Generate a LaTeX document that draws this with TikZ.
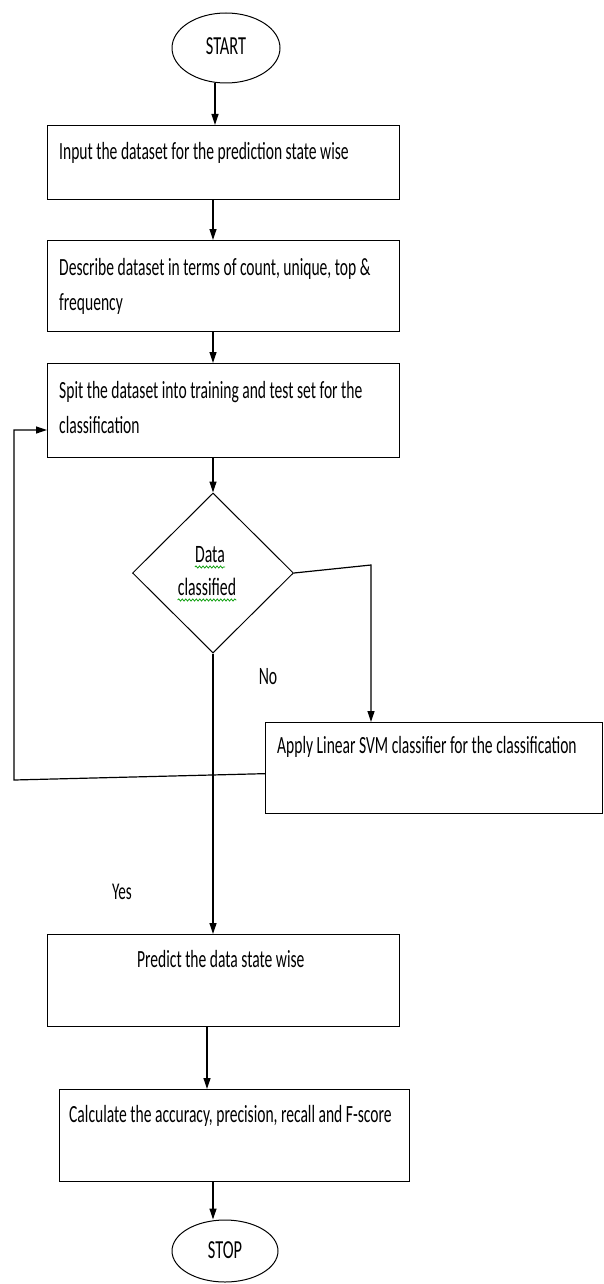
\documentclass[tikz,border=0pt]{standalone}
\usepackage{fontspec}
\setmainfont[FakeStretch=0.63]{Carlito}
\usetikzlibrary{shapes.geometric,arrows.meta,decorations.pathmorphing}
\begin{document}
\begin{tikzpicture}[x=1pt,y=-1pt,
  box/.style={draw, line width=1.3pt, rectangle, inner sep=0pt, anchor=north west},
  term/.style={draw, line width=1pt, ellipse, inner sep=0pt, font=\fontsize{26}{30}\selectfont},
  txt/.style={font=\fontsize{24.7}{35}\selectfont, inner sep=0pt, anchor=base west, align=left},
  lbl/.style={font=\fontsize{#1}{30}\selectfont, inner sep=0pt, anchor=base},
  lbl/.default=25,
  arr/.style={line width=1.2pt, -{Triangle[length=11pt,width=7pt]}},
  spell/.style={draw=green!60!black, line width=0.7pt, decorate, decoration={snake, amplitude=1.1pt, segment length=3.5pt}}
]
\useasboundingbox (0,0) rectangle (603,1284);

% shapes
\node[term, minimum width=108pt, minimum height=70pt] (start) at (226,48) {\raisebox{4pt}{START}};
\node[box, minimum width=352pt, minimum height=74pt] (b1) at (47,125) {};
\node[box, minimum width=352pt, minimum height=91pt] (b2) at (47,240) {};
\node[box, minimum width=352pt, minimum height=94pt] (b3) at (47,363) {};
\node[draw, diamond, aspect=1, minimum width=161pt, minimum height=160pt, inner sep=0pt, line width=1pt] (dia) at (213,573) {};
\node[box, minimum width=337pt, minimum height=91pt] (svm) at (265,722) {};
\node[box, minimum width=352pt, minimum height=92pt] (b5) at (47,934) {};
\node[box, minimum width=350pt, minimum height=92pt] (b6) at (59,1089) {};
\node[term, minimum width=106pt, minimum height=62pt] (stop) at (225,1251) {\raisebox{2pt}{STOP}};

% texts (multi-line nodes: base = baseline of last line)
\node[txt] (t1) at (59,160) {Input the dataset for the prediction state wise};
\node[txt] (t2) at (59,310) {Describe dataset in terms of count, unique, top \&\\frequency};
\node[txt] (t3) at (59,433) {Spit the dataset into training and test set for the\\classification};
\node[lbl=25] (tdata) at (210,562) {Data};
\node[lbl=25] (tcls) at (207,595) {classified};
\draw[spell] ([yshift=-5pt]tdata.base west) -- ([yshift=-5pt]tdata.base east);
\draw[spell] ([yshift=-5pt]tcls.base west) -- ([yshift=-5pt]tcls.base east);
\node[txt] (tsvm) at (277,753) {Apply Linear SVM classifier for the classification};
\node[txt] (t5) at (137,967) {Predict the data state wise};
\node[txt] (t6) at (69,1122) {Calculate the accuracy, precision, recall and F-score};
\node[lbl=25] (no) at (268,684) {No};
\node[lbl=24] (yes) at (122,899) {Yes};

% connectors
\coordinate (ax) at (213,0);
\coordinate (ax2) at (207,0);
\coordinate (nob) at (371,565);
\coordinate (fb1) at (14,780);
\coordinate (fb2) at (14,430);
\draw[arr] ([xshift=-11pt]start.south) -- ([xshift=-11pt]start.south |- b1.north);
\draw[arr] (b1.south -| ax) -- (b2.north -| ax);
\draw[arr] (b2.south -| ax) -- (b3.north -| ax);
\draw[arr] (b3.south -| ax) -- (dia.north);
\draw[arr] (dia.south) -- (b5.north -| ax);
\draw[arr] (dia.east) -- (nob) -- (nob |- svm.north);
\draw[arr] ([yshift=-5.5pt]svm.west) -- (fb1) -- (fb2) -- (fb2 -| b3.west);
\draw[arr] (b5.south -| ax2) -- (b6.north -| ax2);
\draw[arr] (b6.south -| ax) -- ([xshift=-12pt]stop.north);
\end{tikzpicture}
\end{document}
